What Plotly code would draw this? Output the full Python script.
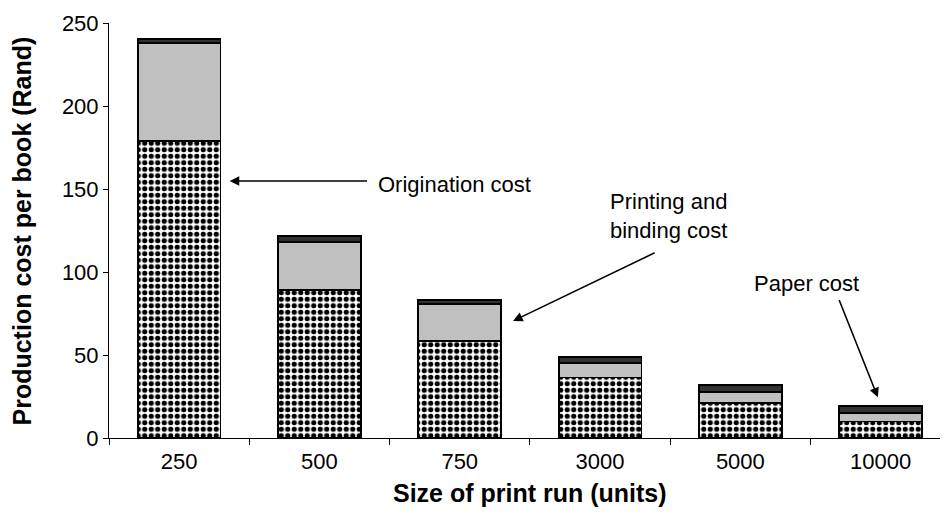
import plotly.graph_objects as go

categories = ["250", "500", "750", "3000", "5000", "10000"]
origination = [179, 89, 58.5, 36.5, 21, 10]
printing = [59, 29, 22, 8.5, 6.5, 5]
paper = [2.5, 3.5, 2.5, 4, 4.5, 4.5]

font = "Liberation Sans, Arial, sans-serif"

fig = go.Figure()
fig.add_bar(x=categories, y=origination, name="Origination cost",
            marker=dict(color="white", line=dict(color="black", width=1.8),
                        pattern=dict(shape=".", fgcolor="black", bgcolor="white",
                                     size=6.5, solidity=0.5, fillmode="replace")))
fig.add_bar(x=categories, y=printing, name="Printing and binding cost",
            marker=dict(color="#C0C0C0", line=dict(color="black", width=1.8)))
fig.add_bar(x=categories, y=paper, name="Paper cost",
            marker=dict(color="#333333", line=dict(color="black", width=1.8)))

# page body has an 8px default margin, so the figure is sized to fit the window
fig.update_layout(
    barmode="stack", bargap=0.41,
    width=940, height=522,
    margin=dict(l=101, r=0, t=15, b=92),
    plot_bgcolor="white", paper_bgcolor="white",
    showlegend=False,
    font=dict(family=font, size=22, color="black"),
    xaxis=dict(type="category", range=[-0.5, 5.48], showline=True, linecolor="black",
               linewidth=1, ticks="outside", tickson="boundaries", ticklen=6,
               tickcolor="black", showgrid=False, automargin=False,
               tickfont=dict(size=22), ticklabelstandoff=4),
    yaxis=dict(range=[0, 250], dtick=50, showline=True, linecolor="black", linewidth=1,
               ticks="outside", ticklen=5, tickcolor="black", showgrid=False,
               zeroline=False, automargin=False, tickfont=dict(size=22)),
)

# axis titles
fig.add_annotation(text="<b>Size of print run (units)</b>", xref="paper", yref="paper",
                   x=0.502, y=-0.1325, xanchor="center", yanchor="middle",
                   showarrow=False, font=dict(size=25, family=font))
fig.add_annotation(text="<b>Production cost per book (Rand)</b>", xref="paper", yref="paper",
                   x=-0.1037, y=0.5, xanchor="center", yanchor="middle", textangle=-90,
                   showarrow=False, font=dict(size=25, family=font))

arrow = dict(showarrow=True, arrowhead=2, arrowsize=1.2, arrowwidth=1.6,
             arrowcolor="black", text="", axref="x", ayref="y", xref="x", yref="y")
fig.add_annotation(x=0.36, y=154.8, ax=1.35, ay=154.8, **arrow)
fig.add_annotation(x=2.38, y=70.5, ax=3.40, ay=112, **arrow)
fig.add_annotation(x=4.98, y=24.5, ax=4.70, ay=84, **arrow)

txt = dict(showarrow=False, xref="x", yref="y", font=dict(size=22, family=font))
fig.add_annotation(x=1.40, y=153, text="Origination cost", xanchor="left", **txt)
fig.add_annotation(x=3.485, y=134, text="Printing and<br>binding cost", xanchor="center", **txt)
fig.add_annotation(x=4.47, y=92.8, text="Paper cost", xanchor="center", **txt)

fig.write_html("out.html")
